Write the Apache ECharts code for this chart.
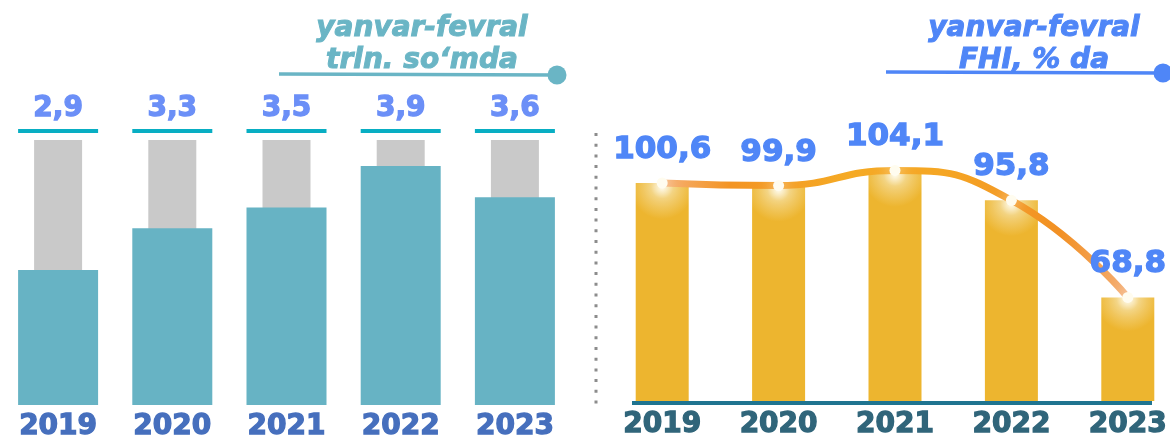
<!DOCTYPE html>
<html><head><meta charset="utf-8">
<script src="https://cdn.jsdelivr.net/npm/echarts@6/dist/echarts.min.js"></script>
<style>html,body{margin:0;padding:0;background:#fff}#c{width:1170px;height:437px}</style>
</head><body><div id="c"></div>
<script>
// ---- data ----
const years = ['2019', '2020', '2021', '2022', '2023'];
const volumeTrln = [2.9, 3.3, 3.5, 3.9, 3.6];        // trln. so'mda
const indexPct = [100.6, 99.9, 104.1, 95.8, 68.8];   // FHI, % da
const leftTitle = ['yanvar-fevral', 'trln. so‘mda'];
const rightTitle = ['yanvar-fevral', 'FHI, % da'];

// ---- presentation ----
const FONT = 'DejaVu Sans';
const fmt = v => v.toFixed(1).replace('.', ',');
const LEFT_MIN = 1.6, LEFT_MAX = 4.15;
const RIGHT_MIN = 40, RIGHT_MAX = 112;
const TEAL_T = '#6ab5c5', BLUE_T = '#4f86f7';
const heavy = c => ({textBorderColor: c, textBorderWidth: 1.3});

const chart = echarts.init(document.getElementById('c'), null, {renderer: 'canvas'});
const option = {
  animation: false,
  backgroundColor: '#ffffff',
  grid: [
    {left: 1, width: 571, top: 140, bottom: 32, containLabel: false, outerBoundsMode: 'none'},
    {left: 604, right: -16, top: 142, bottom: 36, containLabel: false, outerBoundsMode: 'none'}
  ],
  xAxis: [
    {gridIndex: 0, type: 'category', data: years, axisLine: {show: false}, axisTick: {show: false},
     axisLabel: Object.assign({color: '#466fbd', fontSize: 28, fontWeight: 'bold', fontFamily: FONT, margin: 8}, heavy('#466fbd'))},
    {gridIndex: 0, type: 'category', data: years, show: false},
    {gridIndex: 1, type: 'category', data: years, axisLine: {show: false}, axisTick: {show: false},
     axisLabel: Object.assign({color: '#30657a', fontSize: 28, fontWeight: 'bold', fontFamily: FONT, margin: 10}, heavy('#30657a'))}
  ],
  yAxis: [
    {gridIndex: 0, type: 'value', min: LEFT_MIN, max: LEFT_MAX, show: false},
    {gridIndex: 1, type: 'value', min: RIGHT_MIN, max: RIGHT_MAX, show: false}
  ],
  series: [
    { // grey full-height backdrop
      type: 'bar', xAxisIndex: 1, yAxisIndex: 0, data: volumeTrln, barWidth: 48,
      itemStyle: {color: 'rgba(0,0,0,0)'}, showBackground: true,
      backgroundStyle: {color: '#c9c9c9'}, z: 1, silent: true
    },
    {
      type: 'bar', xAxisIndex: 0, yAxisIndex: 0, data: volumeTrln, barWidth: 80,
      itemStyle: {color: '#67b3c4'}, z: 2, silent: true,
      markPoint: {
        silent: true,
        symbol: 'rect', symbolSize: [80, 4], symbolOffset: [0, -9],
        itemStyle: {color: '#08aec3'},
        label: Object.assign({show: true, position: 'top', distance: 6, formatter: p => fmt(p.value),
                color: '#6b8ff7', fontSize: 28, fontWeight: 'bold', fontFamily: FONT}, heavy('#6b8ff7')),
        data: volumeTrln.map((v, i) => ({coord: [years[i], LEFT_MAX], value: v}))
      }
    },
    {
      type: 'bar', xAxisIndex: 2, yAxisIndex: 1, data: indexPct, barWidth: 53, silent: true,
      itemStyle: {color: {type: 'radial', x: 0.5, y: 0.02, r: 0.6, colorStops: [
        {offset: 0, color: '#fffbe9'}, {offset: 0.35, color: '#f3d27c'}, {offset: 1, color: '#edb52f'}]}}
    },
    {
      type: 'line', xAxisIndex: 2, yAxisIndex: 1, data: indexPct, smooth: 0.5, z: 5, silent: true,
      lineStyle: {width: 7, color: {type: 'linear', x: 0, y: 0, x2: 1, y2: 0, colorStops: [
        {offset: 0, color: '#f6b27a'}, {offset: 0.15, color: '#f39423'}, {offset: 0.4, color: '#f5aa25'},
        {offset: 0.6, color: '#f5a624'}, {offset: 0.85, color: '#f29024'}, {offset: 1, color: '#f4b07a'}]}},
      symbol: 'circle', symbolSize: 11,
      itemStyle: {color: '#fffcef', shadowBlur: 16, shadowColor: '#ffffff'},
      label: Object.assign({show: true, position: 'top', distance: 12, formatter: p => fmt(p.value),
              color: BLUE_T, fontSize: 31, fontWeight: 'bold', fontFamily: FONT}, heavy(BLUE_T))
    }
  ],
  graphic: [
    {type: 'text', x: 422, y: 29, style: {text: leftTitle[0], fill: TEAL_T, stroke: TEAL_T, lineWidth: 1, font: 'italic bold 28px "DejaVu Sans"', align: 'center', verticalAlign: 'middle'}},
    {type: 'text', x: 422, y: 61, style: {text: leftTitle[1], fill: TEAL_T, stroke: TEAL_T, lineWidth: 1, font: 'italic bold 28px "DejaVu Sans"', align: 'center', verticalAlign: 'middle'}},
    {type: 'line', shape: {x1: 279, y1: 74, x2: 556, y2: 75}, style: {stroke: TEAL_T, lineWidth: 3.5}},
    {type: 'circle', shape: {cx: 557, cy: 75, r: 9.5}, style: {fill: TEAL_T}},
    {type: 'text', x: 1034, y: 29, style: {text: rightTitle[0], fill: BLUE_T, stroke: BLUE_T, lineWidth: 1, font: 'italic bold 28px "DejaVu Sans"', align: 'center', verticalAlign: 'middle'}},
    {type: 'text', x: 1034, y: 61, style: {text: rightTitle[1], fill: BLUE_T, stroke: BLUE_T, lineWidth: 1, font: 'italic bold 28px "DejaVu Sans"', align: 'center', verticalAlign: 'middle'}},
    {type: 'line', shape: {x1: 886, y1: 72, x2: 1162, y2: 73}, style: {stroke: BLUE_T, lineWidth: 3.5}},
    {type: 'circle', shape: {cx: 1163, cy: 73, r: 9.5}, style: {fill: BLUE_T}},
    {type: 'line', shape: {x1: 596, y1: 133, x2: 596, y2: 404}, style: {stroke: '#8c8c8c', lineWidth: 3, lineDash: [3, 7.7]}},
    {type: 'rect', shape: {x: 632, y: 401, width: 520, height: 4}, style: {fill: '#1f7490'}, z: 10}
  ]
};
chart.setOption(option);
</script>
</body></html>
